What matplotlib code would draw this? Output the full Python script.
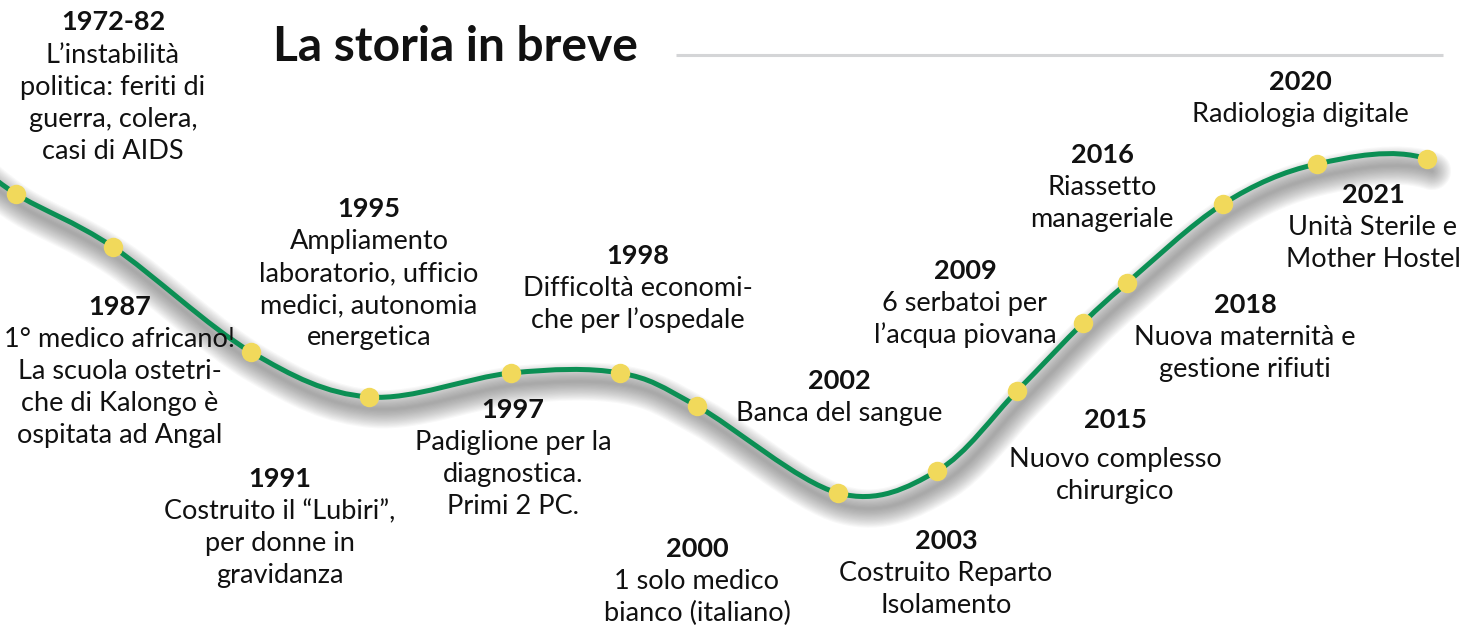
import numpy as np
import matplotlib.pyplot as plt
from matplotlib.path import Path
from matplotlib.patches import PathPatch

plt.rcParams['font.family'] = ['Lato', 'DejaVu Sans']

# timeline dots (pixel positions on the drawing)
dot_x = [16, 113, 251, 369, 511, 620, 697, 838, 937, 1017, 1083, 1127, 1223, 1317, 1427]
dot_y = [194, 247, 352, 397, 373, 373, 406, 493, 471, 391, 323, 283, 204, 164, 159]

years = ['1972-82', '1987', '1991', '1995', '1997', '1998', '2000', '2002',
         '2003', '2009', '2015', '2016', '2018', '2020', '2021']
texts = [
    ['L’instabilità', 'politica: feriti di', 'guerra, colera,', 'casi di AIDS'],
    ['1° medico africano!', 'La scuola ostetri-', 'che di Kalongo è', 'ospitata ad Angal'],
    ['Costruito il “Lubiri”,', 'per donne in', 'gravidanza'],
    ['Ampliamento', 'laboratorio, ufficio', 'medici, autonomia', 'energetica'],
    ['Padiglione per la', 'diagnostica.', 'Primi 2 PC.'],
    ['Difficoltà economi-', 'che per l’ospedale'],
    ['1 solo medico', 'bianco (italiano)'],
    ['Banca del sangue'],
    ['Costruito Reparto', 'Isolamento'],
    ['6 serbatoi per', 'l’acqua piovana'],
    ['Nuovo complesso', 'chirurgico'],
    ['Riassetto', 'manageriale'],
    ['Nuova maternità e', 'gestione rifiuti'],
    ['Radiologia digitale'],
    ['Unità Sterile e', 'Mother Hostel'],
]
label_x = [113, 120, 280, 369, 513, 638, 697, 839, 946, 965, 1115, 1102, 1245, 1300, 1373]
label_y = [30, 315, 487, 217, 418, 264, 557, 389, 549, 279, 428, 163, 313, 90, 203]
gap = [33, 32, 32, 32, 32, 32, 32, 32, 32, 32, 39, 32, 32, 32, 32]

GREEN = '#0b8f54'
YELLOW = '#f1d95b'

fig = plt.figure(figsize=(14.75, 6.28), dpi=100)
ax = fig.add_axes([0, 0, 1, 1])
ax.set_xlim(0, 1475)
ax.set_ylim(628, 0)
ax.axis('off')

# smooth curve through the dots (Catmull-Rom as cubic Bezier)
pts = np.array([[-40, 150]] + list(zip(dot_x, dot_y)) + [[1520, 232]], dtype=float)
verts = [pts[0]]
codes = [Path.MOVETO]
for i in range(len(pts) - 1):
    p0 = pts[max(i - 1, 0)]
    p1 = pts[i]
    p2 = pts[i + 1]
    p3 = pts[min(i + 2, len(pts) - 1)]
    verts += [p1 + (p2 - p0) / 6, p2 - (p3 - p1) / 6, p2]
    codes += [Path.CURVE4] * 3
verts = np.array(verts)
# stop the curve at the last dot
verts = verts[:-3]
codes = codes[:-3]

# soft shadow
for k in range(16):
    sh = Path(verts + np.array([5, 12]), codes)
    ax.add_patch(PathPatch(sh, fill=False, lw=2 + k * 1.7, edgecolor='#555555',
                           alpha=0.04, capstyle='round', zorder=1))

ax.add_patch(PathPatch(Path(verts, codes), fill=False, lw=3.6, edgecolor=GREEN,
                       capstyle='round', zorder=2))
ax.plot(dot_x, dot_y, 'o', ms=14, color=YELLOW, mec='none', zorder=3)

for x, y, yr, lines, g in zip(label_x, label_y, years, texts, gap):
    ax.text(x, y, yr, ha='center', va='baseline', fontsize=19.5, fontweight='bold',
            color='#111111')
    for j, t in enumerate(lines):
        ax.text(x, y + g + 32 * j, t, ha='center', va='baseline', fontsize=19.5,
                color='#111111')

ax.text(273, 61, 'La storia in breve', ha='left', va='baseline', fontsize=34.5,
        fontweight='bold', color='#111111')
ax.plot([676, 1443], [55, 55], color='#d4d5d7', lw=2.2, solid_capstyle='butt')

fig.savefig('out.png', dpi=100)
